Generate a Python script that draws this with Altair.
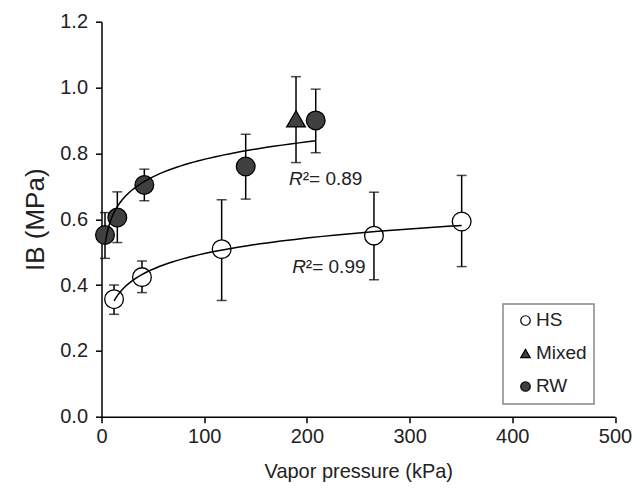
import altair as alt
import pandas as pd

# ---- data ----
groups = ["HS", "Mixed", "RW"]

hs_x = [12.2, 39.4, 117.0, 265.3, 350.7]
hs_y = [0.357, 0.424, 0.509, 0.550, 0.593]
hs_lo = [0.311, 0.377, 0.353, 0.416, 0.456]
hs_hi = [0.400, 0.473, 0.659, 0.682, 0.733]

rw_x = [3.4, 15.4, 41.7, 140.4, 208.6]
rw_y = [0.552, 0.605, 0.704, 0.760, 0.900]
rw_lo = [0.481, 0.529, 0.656, 0.661, 0.802]
rw_hi = [0.620, 0.683, 0.752, 0.858, 0.995]

mixed_x = [189.4]
mixed_y = [0.905]
mixed_lo = [0.772]
mixed_hi = [1.033]

r2_labels = ["0.89", "0.99"]
r2_x = [196.0, 199.0]
r2_y = [0.704, 0.438]

x_ticks = [0, 100, 200, 300, 400, 500]
y_ticks = [0.0, 0.2, 0.4, 0.6, 0.8, 1.0, 1.2]

FONT = "Liberation Sans, Arial, Helvetica, sans-serif"
DARK = "#404040"

rows = []
for g, xs, ys, los, his in [("HS", hs_x, hs_y, hs_lo, hs_hi),
                            ("Mixed", mixed_x, mixed_y, mixed_lo, mixed_hi),
                            ("RW", rw_x, rw_y, rw_lo, rw_hi)]:
    for x, y, lo, hi in zip(xs, ys, los, his):
        rows.append({"group": g, "x": x, "y": y, "lo": lo, "hi": hi})
df = pd.DataFrame(rows)

ann = pd.DataFrame({
    "x": r2_x,
    "y": r2_y,
    "R": ["R"] * len(r2_labels),
    "rest": ["\u00b2= " + s for s in r2_labels],
})

xscale = alt.Scale(domain=[0, 500], nice=False, zero=True)
yscale = alt.Scale(domain=[0, 1.2], nice=False)

xaxis = alt.Axis(values=x_ticks, title="Vapor pressure (kPa)", format="d", labelFlush=False,
                 titleBaseline="alphabetic", titleY=61)
yaxis = alt.Axis(values=y_ticks, title="IB (MPa)", format=".1f", labelFlush=False,
                 titleBaseline="alphabetic", titleX=-58)

base = alt.Chart(df)

err = base.mark_rule(color="black", strokeWidth=1.5).encode(
    x=alt.X("x:Q", scale=xscale, axis=xaxis),
    y=alt.Y("lo:Q", scale=yscale, axis=yaxis),
    y2="hi:Q",
)
cap_hi = base.mark_tick(color="black", orient="horizontal", size=10, thickness=1.5).encode(
    x="x:Q", y="hi:Q")
cap_lo = base.mark_tick(color="black", orient="horizontal", size=10, thickness=1.5).encode(
    x="x:Q", y="lo:Q")

pts = base.mark_point(filled=False, strokeWidth=1.3, opacity=1, size=350).encode(
    x="x:Q",
    y="y:Q",
    shape=alt.Shape("group:N", scale=alt.Scale(domain=groups, range=["circle", "triangle-up", "circle"]),
                    legend=alt.Legend(title=None)),
    fill=alt.Fill("group:N", scale=alt.Scale(domain=groups, range=["white", DARK, DARK]),
                  legend=alt.Legend(title=None)),
    stroke=alt.Stroke("group:N", scale=alt.Scale(domain=groups, range=["black", "black", "black"]),
                      legend=alt.Legend(title=None)),
)

fit = base.transform_filter(
    alt.FieldOneOfPredicate(field="group", oneOf=["HS", "RW"])
).transform_regression("x", "y", method="log", groupby=["group"]).mark_line(
    color="black", strokeWidth=1.5
).encode(x="x:Q", y="y:Q", detail="group:N")

txt_r = alt.Chart(ann).mark_text(font=FONT, fontSize=19, fontStyle="italic", align="right",
                                 baseline="alphabetic", color="#222").encode(
    x="x:Q", y="y:Q", text="R:N")
txt_rest = alt.Chart(ann).mark_text(font=FONT, fontSize=19, align="left",
                                    baseline="alphabetic", color="#222").encode(
    x="x:Q", y="y:Q", text="rest:N")

chart = alt.layer(err, cap_hi, cap_lo, pts, fit, txt_r, txt_rest).properties(
    width=513.5, height=395,
    autosize=alt.AutoSizeParams(type="none"),
    padding={"left": 93.5, "top": 13.7, "right": 20, "bottom": 67},
).configure_view(stroke=None).configure_axis(
    grid=False, domainColor="black", domainWidth=1.5, tickColor="black", tickWidth=1.5,
    tickSize=6, labelFont=FONT, labelFontSize=20, labelColor="#222", titleFont=FONT,
    titleColor="#222", titleFontWeight="normal",
).configure_axisX(labelPadding=4, titleFontSize=20).configure_axisY(
    labelPadding=8, titleFontSize=26
).configure_legend(
    orient="none", legendX=401.5, legendY=282.3, padding=7, rowPadding=13,
    strokeColor="#888", strokeWidth=1.5, fillColor="white",
    labelFont=FONT, labelFontSize=19, labelColor="#222", symbolSize=90,
    symbolStrokeWidth=1.2, symbolOffset=6, labelOffset=1,
)

chart.save("out.html", embed_options={"renderer": "svg", "actions": False})
